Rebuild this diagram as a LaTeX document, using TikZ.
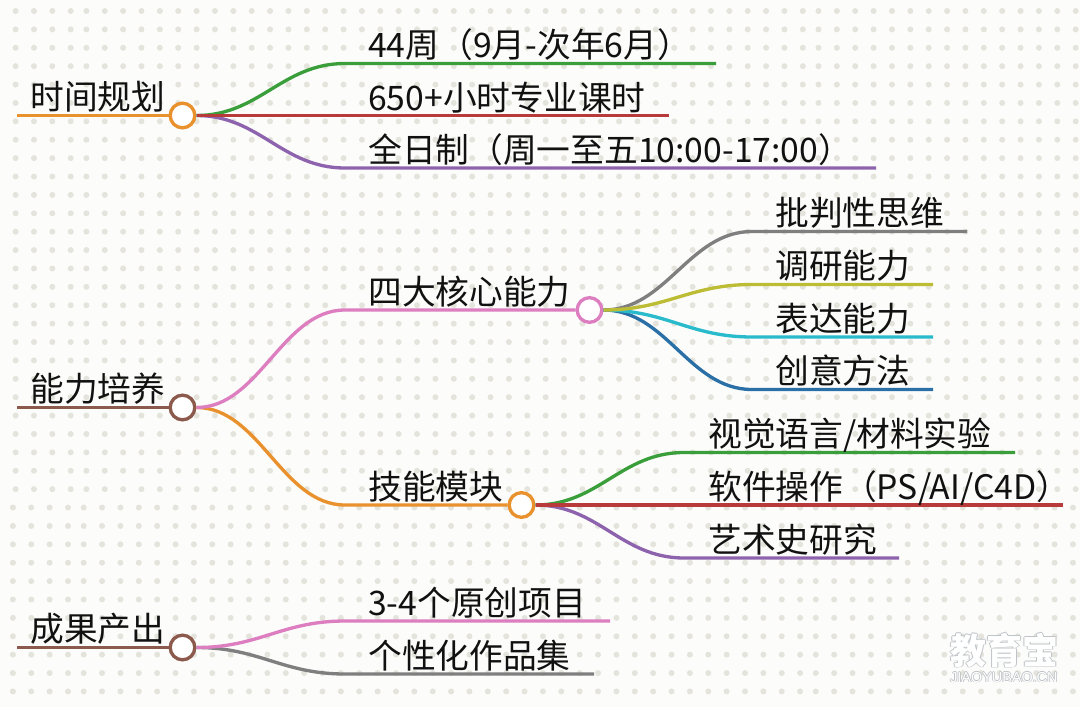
\documentclass[tikz,border=0pt]{standalone}
\usepackage{fontspec}
\setmainfont{Noto Sans CJK SC}
\newfontfamily\markfont{Liberation Sans}
\definecolor{paper}{HTML}{FCFCFB}
\definecolor{dotgray}{HTML}{E4E4DC}
\definecolor{inktext}{HTML}{111111}
\definecolor{lineorange}{HTML}{E8912D}
\definecolor{linegreen}{HTML}{3A9F3A}
\definecolor{linered}{HTML}{B83A3A}
\definecolor{linepurple}{HTML}{8E63AE}
\definecolor{linebrown}{HTML}{8C5A4D}
\definecolor{linepink}{HTML}{DD7EC0}
\definecolor{linegray}{HTML}{7F7F7F}
\definecolor{lineolive}{HTML}{BDBD35}
\definecolor{linecyan}{HTML}{29BBCC}
\definecolor{lineblue}{HTML}{2A6FA5}
\definecolor{markgray}{HTML}{BFC3C7}
\tikzstyle{topic} = [anchor=base west, inner sep=0pt, text=inktext, font=\fontsize{25.3pt}{28pt}\selectfont]
\tikzstyle{hub} = [circle, fill=white, line width=2.5pt, minimum size=18.5pt, inner sep=0pt]
\tikzstyle{branch} = [line width=2.5pt]
\tikzstyle{markbig} = [anchor=base west, inner sep=0pt, font=\fontsize{27pt}{30pt}\selectfont\bfseries]
\tikzstyle{marksmall} = [anchor=base west, inner sep=0pt, font=\markfont\fontsize{10.8pt}{12pt}\selectfont]

\begin{document}
\begin{tikzpicture}[x=0.75pt, y=-0.75pt]
    \useasboundingbox (0,0) rectangle (1080,707);
    \fill [paper] (0,0) rectangle (1080,707);
    \begin{scope}
        \clip (0,0) rectangle (1080,707);
        \foreach \row in {0,...,37}
            \foreach \col in {0,...,58} {
                \pgfmathsetmacro{\dotx}{15.6+18.37*\col-2.7*(\col>3)-2.7*(\col>43)-2.7*(\row>26)}
                \pgfmathsetmacro{\doty}{11+18.39*\row}
                \fill [dotgray] (\dotx,\doty) circle (2.25pt);
            }
    \end{scope}

    \coordinate (shijianstart) at (17,115.5);
    \coordinate (zhouend) at (345,63.5);
    \coordinate (zhouline) at (716,63.5);
    \coordinate (keshiline) at (669,115.5);
    \coordinate (quanriend) at (345,168);
    \coordinate (quanriline) at (876,168);
    \coordinate (nengliStart) at (17,407.5);
    \coordinate (sidaend) at (345,310);
    \coordinate (jinengend) at (345,505);
    \coordinate (pipanend) at (752,231.5);
    \coordinate (pipanline) at (967,231.5);
    \coordinate (diaoyanend) at (752,284.5);
    \coordinate (diaoyanline) at (933,284.5);
    \coordinate (biaodaend) at (752,337);
    \coordinate (biaodaline) at (933,337);
    \coordinate (chuangyiend) at (752,389.5);
    \coordinate (chuangyiline) at (933,389.5);
    \coordinate (shijueend) at (684,452.5);
    \coordinate (shijueline) at (1015,452.5);
    \coordinate (ruanjianline) at (1063,505);
    \coordinate (yishuend) at (684,558);
    \coordinate (yishuline) at (899,558);
    \coordinate (chengguostart) at (17,647.5);
    \coordinate (yuanchuangend) at (345,621);
    \coordinate (yuanchuangline) at (610,621);
    \coordinate (zuopinend) at (345,674);
    \coordinate (zuopinline) at (594,674);

    \node (shijianhub) [hub, draw=lineorange] at (182.5,115.5) {};
    \node (nenglihub) [hub, draw=linebrown] at (182.5,407.5) {};
    \node (sidahub) [hub, draw=linepink] at (589.5,310) {};
    \node (jinenghub) [hub, draw=lineorange] at (521.5,505) {};
    \node (chengguohub) [hub, draw=linebrown] at (182.5,647.5) {};

    \draw [branch, lineorange] (shijianstart) -- (shijianhub);
    \draw [branch, linegreen] (shijianhub.east) .. controls +(63,0) and +(-63,0) .. (zhouend) -- (zhouline);
    \draw [branch, linepurple] (shijianhub.east) .. controls +(63,0) and +(-63,0) .. (quanriend) -- (quanriline);
    \draw [branch, linered] (shijianhub.east) -- (keshiline);

    \draw [branch, linebrown] (nengliStart) -- (nenglihub);
    \draw [branch, lineorange] (nenglihub.east) .. controls +(63,0) and +(-63,0) .. (jinengend) -- (jinenghub);
    \draw [branch, linepink] (nenglihub.east) .. controls +(63,0) and +(-63,0) .. (sidaend) -- (sidahub);

    \draw [branch, lineblue] (sidahub.east) .. controls +(63,0) and +(-63,0) .. (chuangyiend) -- (chuangyiline);
    \draw [branch, linecyan] (sidahub.east) .. controls +(63,0) and +(-63,0) .. (biaodaend) -- (biaodaline);
    \draw [branch, linegray] (sidahub.east) .. controls +(63,0) and +(-63,0) .. (pipanend) -- (pipanline);
    \draw [branch, lineolive] (sidahub.east) .. controls +(63,0) and +(-63,0) .. (diaoyanend) -- (diaoyanline);

    \draw [branch, linegreen] (jinenghub.east) .. controls +(63,0) and +(-63,0) .. (shijueend) -- (shijueline);
    \draw [branch, linepurple] (jinenghub.east) .. controls +(63,0) and +(-63,0) .. (yishuend) -- (yishuline);
    \draw [branch, linered] (jinenghub.east) -- (ruanjianline);

    \draw [branch, linebrown] (chengguostart) -- (chengguohub);
    \draw [branch, linegray] (chengguohub.east) .. controls +(63,0) and +(-63,0) .. (zuopinend) -- (zuopinline);
    \draw [branch, linepink] (chengguohub.east) .. controls +(63,0) and +(-63,0) .. (yuanchuangend) -- (yuanchuangline);

    \node (shijian) [topic] at (30,109) {时间规划};
    \node (zhou) [topic] at (368,57) {44周（9月-次年6月）};
    \node (keshi) [topic] at (368,110) {650+小时专业课时};
    \node (quanri) [topic] at (368,162) {全日制（周一至五10:00-17:00）};
    \node (nengli) [topic] at (30,401) {能力培养};
    \node (sida) [topic] at (368,304) {四大核心能力};
    \node (pipan) [topic] at (775,225) {批判性思维};
    \node (diaoyan) [topic] at (775,278) {调研能力};
    \node (biaoda) [topic] at (775,331) {表达能力};
    \node (chuangyi) [topic] at (775,383) {创意方法};
    \node (jineng) [topic] at (368,499) {技能模块};
    \node (shijue) [topic] at (708,446) {视觉语言/材料实验};
    \node (ruanjian) [topic] at (708,499) {软件操作（PS/AI/C4D）};
    \node (yishu) [topic] at (708,552) {艺术史研究};
    \node (chengguo) [topic] at (30,641) {成果产出};
    \node (yuanchuang) [topic] at (368,615) {3-4个原创项目};
    \node (zuopin) [topic] at (368,668) {个性化作品集};

    \foreach \dx/\dy in {-0.8/0, 0.8/0, 0/-0.8, 0/0.8} {
        \node [markbig, text=markgray] at (950+\dx,664+\dy) {教育宝};
        \node [marksmall, text=markgray] at (950+\dx,682+\dy) {JIAOYUBAO.CN};
    }
    \node (jiaoyubao) [markbig, text=white] at (950,664) {教育宝};
    \node (site) [marksmall, text=white] at (950,682) {JIAOYUBAO.CN};
\end{tikzpicture}
\end{document}
